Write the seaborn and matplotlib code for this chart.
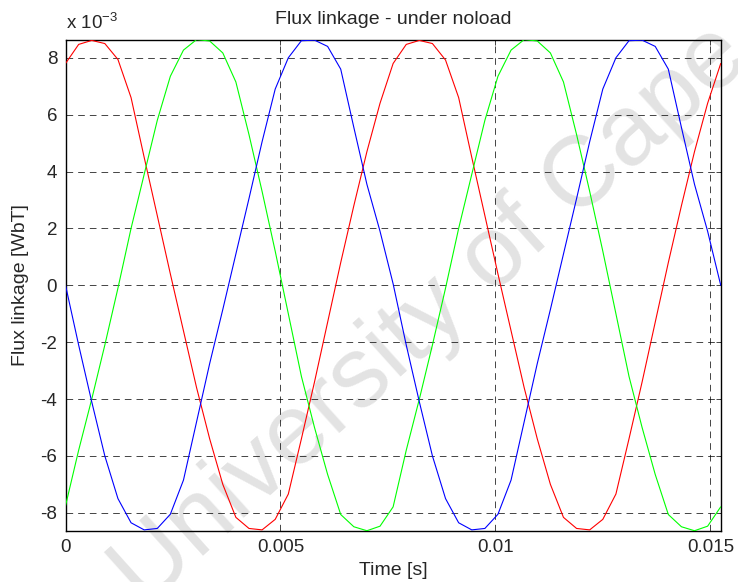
import matplotlib
matplotlib.use("Agg")
import matplotlib.pyplot as plt
import seaborn as sns

# sample times [s]
time_s = [0, 0.000305, 0.00061, 0.000914, 0.001219, 0.001524, 0.001829, 0.002134,
          0.002438, 0.002743, 0.003048, 0.003353, 0.003658, 0.003962, 0.004267,
          0.004572, 0.004877, 0.005182, 0.005486, 0.005791, 0.006096, 0.006401,
          0.006706, 0.00701, 0.007315, 0.00762, 0.007925, 0.00823, 0.008534,
          0.008839, 0.009144, 0.009449, 0.009754, 0.010058, 0.010363, 0.010668,
          0.010973, 0.011278, 0.011582, 0.011887, 0.012192, 0.012497, 0.012802,
          0.013106, 0.013411, 0.013716, 0.014021, 0.014326, 0.01463, 0.014935,
          0.01524]

# flux linkage per phase, in units of 1e-3 WbT
phase_red = [7.8, 8.47, 8.61, 8.5, 7.94, 6.6, 4.5, 2.45, 0.4, -1.6, -3.6, -5.4, -7.0,
             -8.16, -8.55, -8.6, -8.23, -7.34, -5.4, -3.4, -1.3, 0.8, 2.8, 4.7, 6.4,
             7.8, 8.47, 8.61, 8.5, 7.92, 6.6, 4.5, 2.45, 0.4, -1.6, -3.6, -5.4, -7.0,
             -8.16, -8.55, -8.6, -8.23, -7.34, -5.4, -3.4, -1.3, 0.8, 2.8, 4.7, 6.4,
             7.8]
phase_green = [-7.75, -5.8, -4.0, -2.1, -0.1, 2.0, 3.9, 5.8, 7.35, 8.27, 8.64, 8.59,
               8.17, 7.15, 5.3, 3.3, 1.2, -1.0, -3.2, -5.0, -6.65, -8.06, -8.49, -8.63,
               -8.47, -7.79, -5.8, -4.0, -2.1, -0.1, 2.0, 3.9, 5.8, 7.35, 8.27, 8.64,
               8.59, 8.17, 7.15, 5.3, 3.3, 1.2, -1.0, -3.2, -5.0, -6.65, -8.06, -8.49,
               -8.63, -8.47, -7.79]
phase_blue = [0, -2.1, -4.1, -6.0, -7.5, -8.35, -8.6, -8.55, -8.05, -6.85, -4.8, -2.75,
              -0.85, 1.1, 3.05, 5.05, 6.9, 8.0, 8.6, 8.62, 8.4, 7.6, 5.55, 3.55, 1.9,
              0.05, -2.1, -4.1, -6.0, -7.5, -8.35, -8.6, -8.55, -8.05, -6.85, -4.8,
              -2.75, -0.85, 1.1, 3.05, 5.05, 6.9, 8.0, 8.6, 8.62, 8.4, 7.6, 5.55, 3.55,
              1.9, 0]

x_ticks = [0, 0.005, 0.01, 0.015]
x_ticklabels = ["0", "0.005", "0.01", "0.015"]
y_ticks = [-8, -6, -4, -2, 0, 2, 4, 6, 8]

sns.set_style("white")
plt.rcParams["font.family"] = ["Liberation Sans", "DejaVu Sans"]
plt.rcParams["axes.unicode_minus"] = False
plt.rcParams["mathtext.default"] = "regular"

fig = plt.figure(figsize=(7.38, 5.82), dpi=100)
ax = fig.add_axes([0.0888, 0.0876, 0.8878, 0.8444])

# watermark behind the lines
ax.text(0.715, 0.607, "University of Cape Town", transform=fig.transFigure,
        rotation=42, rotation_mode="anchor", ha="center", va="center",
        fontsize=72, color="#e3e3e3", zorder=0.5, clip_on=False)

sns.lineplot(x=time_s, y=phase_red, color="#ff0000", lw=0.8, ax=ax, zorder=3)
sns.lineplot(x=time_s, y=phase_green, color="#00ff00", lw=0.8, ax=ax, zorder=3)
sns.lineplot(x=time_s, y=phase_blue, color="#0000ff", lw=0.8, ax=ax, zorder=3)

ax.set_xlim(0, 0.01524)
ax.set_ylim(-8.64, 8.64)
ax.set_xticks(x_ticks)
ax.set_xticklabels(x_ticklabels)
ax.set_yticks(y_ticks)
ax.grid(True, color="black", linestyle=(0, (8, 6)), lw=0.6, alpha=0.85)
ax.tick_params(direction="in", length=3.5, width=0.6, labelsize=13.5,
               top=True, right=True, pad=6)
for s in ax.spines.values():
    s.set_color("black")
    s.set_linewidth(1.0)

ax.set_title("Flux linkage - under noload", fontsize=14, pad=11)
ax.set_xlabel("Time [s]", fontsize=14, labelpad=4)
ax.set_ylabel("Flux linkage [WbT]", fontsize=14, labelpad=8)
ax.text(0, 1.014, r"x 10$^{-3}$", transform=ax.transAxes, fontsize=13.5,
        ha="left", va="bottom")

fig.savefig("out.png", dpi=100)
